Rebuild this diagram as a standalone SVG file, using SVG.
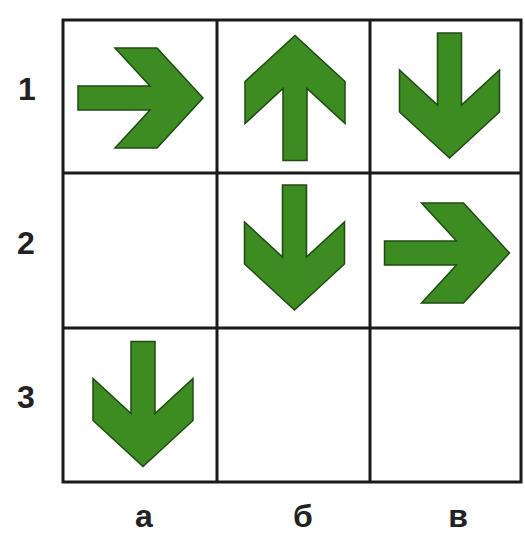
<svg xmlns="http://www.w3.org/2000/svg" width="525" height="533" viewBox="0 0 525 533">
<style>
.grid{stroke:#1a1a1a;stroke-width:3;fill:none}
.arrow{fill:#3d8c22;stroke:#1f4a12;stroke-width:1.5;stroke-linejoin:miter}
.lbl{font-family:"Liberation Sans",Arial,sans-serif;font-weight:bold;font-size:32px;fill:#222;text-anchor:middle}
</style>
<defs>
<path id="arr" d="M-62,-12 L10,-12 L-25,-50 L17,-50 L63,0 L17,50 L-25,50 L10,12 L-62,12 Z"/>
</defs>
<rect width="525" height="533" fill="#ffffff"/>
<g id="grid">
<rect class="grid" x="63" y="20" width="458" height="462"/>
<line class="grid" x1="217" y1="20" x2="217" y2="482"/>
<line class="grid" x1="370" y1="20" x2="370" y2="482"/>
<line class="grid" x1="63" y1="173" x2="521" y2="173"/>
<line class="grid" x1="63" y1="328" x2="521" y2="328"/>
</g>
<g id="arrow-1a"><use href="#arr" class="arrow" transform="translate(140,98)"/></g>
<g id="arrow-1b"><use href="#arr" class="arrow" transform="translate(295,98.5) rotate(-90)"/></g>
<g id="arrow-1v"><use href="#arr" class="arrow" transform="translate(449.5,95) rotate(90)"/></g>
<g id="arrow-2b"><use href="#arr" class="arrow" transform="translate(294.5,247) rotate(90)"/></g>
<g id="arrow-2v"><use href="#arr" class="arrow" transform="translate(446.5,253)"/></g>
<g id="arrow-3a"><use href="#arr" class="arrow" transform="translate(143,403.5) rotate(90)"/></g>
<g id="labels">
<text class="lbl" x="27" y="100">1</text>
<text class="lbl" x="26" y="254">2</text>
<text class="lbl" x="26" y="408">3</text>
<text class="lbl" x="144" y="527">а</text>
<text class="lbl" x="303" y="527">б</text>
<text class="lbl" x="458" y="527">в</text>
</g>
</svg>
